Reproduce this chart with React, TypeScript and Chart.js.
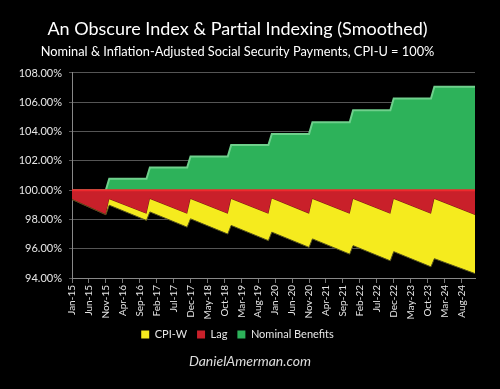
import React, { useEffect, useRef } from "react";
import { Chart, registerables } from "chart.js";

Chart.register(...registerables);

// Month index (0 = Jan-15) of each vertex of the smoothed series
const monthIndex = [0, 10, 11, 22, 23, 34, 35, 46, 47, 58, 59, 70, 71, 82, 83, 94, 95, 106, 107, 119];
// Nominal benefits (% of CPI-U adjusted level)
const nominalBenefits = [100, 100, 100.78, 100.78, 101.54, 101.54, 102.3, 102.3, 103.08, 103.08, 103.84, 103.84, 104.64, 104.64, 105.45, 105.45, 106.26, 106.26, 107.06, 107.06];
// Lower edge of the lag band
const lagFloor = [99.36, 98.32, 99.38, 98.38, 99.4, 98.38, 99.4, 98.38, 99.4, 98.38, 99.43, 98.39, 99.4, 98.38, 99.4, 98.38, 99.4, 98.38, 99.4, 98.3];
// Lower edge of the CPI-W band (real value)
const cpiwFloor = [99.36, 98.32, 98.97, 97.93, 98.51, 97.47, 98.04, 97.0, 97.59, 96.55, 97.13, 96.09, 96.67, 95.63, 96.21, 95.17, 95.8, 94.76, 95.32, 94.3];
// 100% parity line
const parityMonths = [0, 119];
const parityLine = [100, 100];

const tickLabels = [
  "Jan-15", "Jun-15", "Nov-15", "Apr-16", "Sep-16", "Feb-17", "Jul-17", "Dec-17",
  "May-18", "Oct-18", "Mar-19", "Aug-19", "Jan-20", "Jun-20", "Nov-20", "Apr-21",
  "Sep-21", "Feb-22", "Jul-22", "Dec-22", "May-23", "Oct-23", "Mar-24", "Aug-24",
];

const FONT = 'Lato, "Open Sans", sans-serif';

function pts(xs: number[], ys: number[]) {
  return xs.map((x, i) => ({ x, y: ys[i] }));
}

export default function App() {
  const ref = useRef<HTMLCanvasElement | null>(null);

  useEffect(() => {
    document.body.style.margin = "0";
    document.body.style.background = "#000";
    const canvas = ref.current;
    if (!canvas) return;
    const chart = new Chart(canvas, {
      type: "line",
      data: {
        datasets: [
          {
            label: "CPI-W",
            data: pts(monthIndex, cpiwFloor),
            backgroundColor: "#f5eb1e",
            borderColor: "#55521e",
            borderWidth: 1,
            fill: 1,
            pointRadius: 0,
            tension: 0,
          },
          {
            label: "Lag",
            data: pts(monthIndex, lagFloor),
            backgroundColor: "#c9202a",
            borderColor: "#7a1716",
            borderWidth: 1,
            fill: { value: 100 },
            pointRadius: 0,
            tension: 0,
          },
          {
            label: "Nominal Benefits",
            data: pts(monthIndex, nominalBenefits),
            backgroundColor: "#2db25a",
            borderColor: "#6fd08c",
            borderWidth: 2,
            fill: { value: 100 },
            pointRadius: 0,
            tension: 0,
          },
          {
            label: "parity",
            data: pts(parityMonths, parityLine),
            borderColor: "#f0282d",
            borderWidth: 2,
            fill: false,
            pointRadius: 0,
            order: -1,
          },
        ],
      },
      options: {
        animation: false,
        responsive: false,
        maintainAspectRatio: false,
        layout: { padding: { left: 0, right: 25, top: 0, bottom: 39 } },
        scales: {
          x: {
            type: "linear",
            min: 0,
            max: 119,
            afterFit: (s: any) => {
              s.height = 41;
            },
            grid: { display: true, drawOnChartArea: false, drawTicks: true, tickLength: 5, color: "#777" },
            border: { display: true, color: "#888" },
            ticks: {
              stepSize: 5,
              includeBounds: false,
              autoSkip: false,
              maxRotation: 90,
              minRotation: 90,
              padding: 2,
              color: "#e6e6e6",
              font: { family: FONT, size: 10 },
              callback: (v: any) => {
                const i = Math.round(Number(v) / 5);
                return tickLabels[i] ?? "";
              },
            },
          },
          y: {
            min: 94,
            max: 108,
            afterFit: (s: any) => {
              s.width = 72;
            },
            grid: { color: "#555", lineWidth: 1, tickLength: 3 },
            border: { display: true, color: "#888" },
            ticks: {
              stepSize: 2,
              padding: 7,
              color: "#e6e6e6",
              font: { family: FONT, size: 11 },
              callback: (v: any) => Number(v).toFixed(2) + "%",
            },
          },
        },
        plugins: {
          title: {
            display: true,
            text: "An Obscure Index & Partial Indexing (Smoothed)",
            color: "#ffffff",
            font: { family: FONT, size: 18, weight: "normal" },
            padding: { top: 18, bottom: 5 },
          },
          subtitle: {
            display: true,
            text: "Nominal & Inflation-Adjusted Social Security Payments, CPI-U = 100%",
            color: "#ffffff",
            font: { family: FONT, size: 12.8, weight: "normal" },
            padding: { top: 0, bottom: 13 },
          },
          legend: {
            position: "bottom",
            labels: {
              color: "#e6e6e6",
              boxWidth: 8,
              boxHeight: 8,
              padding: 10,
              font: { family: FONT, size: 11 },
              filter: (item: any) => item.text !== "parity",
              generateLabels: (ch: any) => {
                const items = (Chart.defaults.plugins.legend.labels as any).generateLabels(ch);
                return items.map((it: any) => ({ ...it, strokeStyle: it.fillStyle, lineWidth: 0 }));
              },
            },
          },
          tooltip: { enabled: false },
        },
      },
    });
    return () => chart.destroy();
  }, []);

  return (
    <div style={{ position: "fixed", left: 0, top: 0, width: 500, height: 389, background: "#000" }}>
      <canvas ref={ref} width={500} height={389} style={{ display: "block" }} />
      <div
        style={{
          position: "absolute",
          left: 0,
          top: 353,
          width: 500,
          textAlign: "center",
          fontFamily: FONT,
          fontStyle: "italic",
          fontSize: 14,
          lineHeight: "15px",
          color: "#dcdcdc",
        }}
      >
        DanielAmerman.com
      </div>
    </div>
  );
}
